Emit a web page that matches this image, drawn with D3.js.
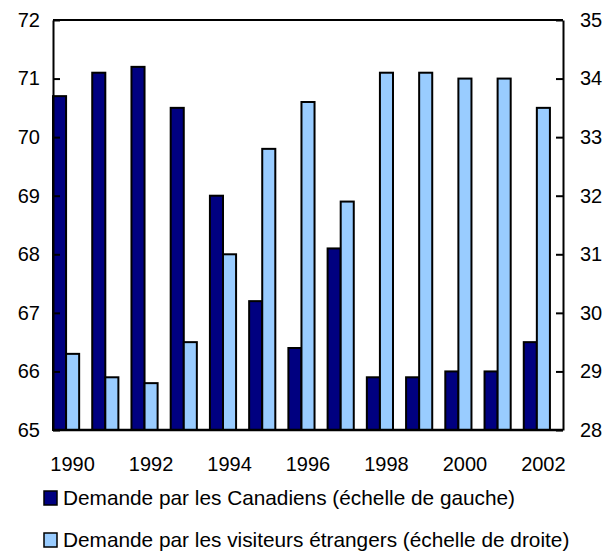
<!DOCTYPE html>
<html>
<head>
<meta charset="utf-8">
<script src="https://cdn.jsdelivr.net/npm/d3@7"></script>
<style>
  body { margin: 0; background: #fff; }
  text { font-family: "Liberation Sans", Arial, sans-serif; }
</style>
</head>
<body>
<svg id="chart"></svg>
<script>
const width = 607;
const height = 552;

const years = [1990, 1991, 1992, 1993, 1994, 1995, 1996, 1997, 1998, 1999, 2000, 2001, 2002];
const canadiens = [70.7, 71.1, 71.2, 70.5, 69.0, 67.2, 66.4, 68.1, 65.9, 65.9, 66.0, 66.0, 66.5];
const visiteurs = [29.3, 28.9, 28.8, 29.5, 31.0, 32.8, 33.6, 31.9, 34.1, 34.1, 34.0, 34.0, 33.5];
const leftTicks = [65, 66, 67, 68, 69, 70, 71, 72];
const rightTicks = [28, 29, 30, 31, 32, 33, 34, 35];
const legendLabels = [
  "Demande par les Canadiens (échelle de gauche)",
  "Demande par les visiteurs étrangers (échelle de droite)"
];
const colors = ["#000080", "#99ccff"];

const plotL = 53, plotR = 563, plotT = 20, plotB = 430;

const svg = d3.select("#chart")
  .attr("width", width)
  .attr("height", height);

const x = d3.scaleBand()
  .domain(years)
  .range([plotL, plotR]);

// the pair of bars sits in the left two thirds of each year's band
const xSub = d3.scaleBand()
  .domain([0, 1])
  .range([0, x.bandwidth() * 2 / 3]);

const yL = d3.scaleLinear().domain([65, 72]).range([plotB, plotT]);
const yR = d3.scaleLinear().domain([28, 35]).range([plotB, plotT]);

const rows = years.map((yr, i) => ({ year: yr, vals: [canadiens[i], visiteurs[i]] }));

// bars
const g = svg.selectAll("g.yr")
  .data(rows)
  .join("g")
  .attr("class", "yr")
  .attr("transform", (d) => "translate(" + x(d.year) + ",0)");

g.selectAll("rect")
  .data((d) => d.vals.map((v, k) => ({ v: v, k: k })))
  .join("rect")
  .attr("x", (d) => xSub(d.k))
  .attr("width", xSub.bandwidth())
  .attr("y", (d) => d.k === 0 ? yL(d.v) : yR(d.v))
  .attr("height", (d) => plotB - (d.k === 0 ? yL(d.v) : yR(d.v)))
  .style("fill", (d) => colors[d.k])
  .style("stroke", "black")
  .style("stroke-width", 2);

// axes
const axL = svg.append("g")
  .attr("transform", "translate(" + plotL + ",0)")
  .call(d3.axisLeft(yL).tickValues(leftTicks).tickFormat(d3.format("d"))
    .tickSizeInner(-7).tickSizeOuter(0).tickPadding(13));
const axR = svg.append("g")
  .attr("transform", "translate(" + plotR + ",0)")
  .call(d3.axisRight(yR).tickValues(rightTicks).tickFormat(d3.format("d"))
    .tickSizeInner(-7).tickSizeOuter(0).tickPadding(17));
[axL, axR].forEach((a) => {
  a.select(".domain").style("stroke", "black").style("stroke-width", 2);
  a.selectAll(".tick line").style("stroke", "black").style("stroke-width", 2);
  a.selectAll("text").style("font-size", "20px").style("fill", "#000")
    .style("font-family", "'Liberation Sans', Arial, sans-serif");
});

svg.append("line")
  .attr("x1", plotL).attr("x2", plotR)
  .attr("y1", plotT).attr("y2", plotT)
  .style("stroke", "black").style("stroke-width", 2);
svg.append("line")
  .attr("x1", plotL).attr("x2", plotR)
  .attr("y1", plotB).attr("y2", plotB)
  .style("stroke", "black").style("stroke-width", 2.5);

// year labels
svg.selectAll("text.yl")
  .data(years.filter((yr) => yr % 2 === 0))
  .join("text")
  .attr("class", "yl")
  .attr("x", (d) => x(d) + x.bandwidth() / 2)
  .attr("y", 471)
  .attr("text-anchor", "middle")
  .attr("font-size", "20px")
  .text((d) => d);

// legend
const leg = svg.selectAll("g.leg")
  .data(legendLabels)
  .join("g")
  .attr("class", "leg")
  .attr("transform", (d, i) => "translate(44," + (491 + i * 42) + ")");
leg.append("rect")
  .attr("width", 13).attr("height", 14)
  .style("fill", (d, i) => colors[i])
  .style("stroke", "black")
  .style("stroke-width", 1.5);
leg.append("text")
  .attr("x", 19)
  .attr("y", 14)
  .attr("font-size", "20.8px")
  .text((d) => d);
</script>
</body>
</html>
